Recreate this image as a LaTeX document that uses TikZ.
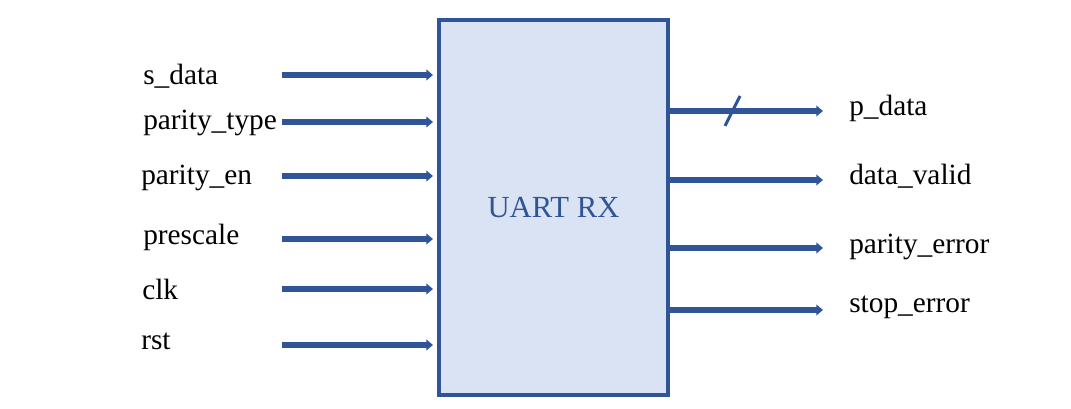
\documentclass[tikz,border=0pt]{standalone}
\usepackage{fontspec}
\setmainfont{Liberation Serif}
\usepackage{xcolor}
\usetikzlibrary{arrows.meta, positioning, calc}
\definecolor{rxblue}{HTML}{2F5597}
\definecolor{rxfill}{HTML}{DAE3F3}

\begin{document}
\begin{tikzpicture}[
    x=0.75pt, y=-0.75pt,
    block/.style={draw=rxblue, fill=rxfill, line width=3pt, minimum width=171.75pt, minimum height=281.25pt, font=\fontsize{23}{26}\selectfont, text=rxblue},
    sig/.style={anchor=base west, inner sep=0pt, font=\fontsize{22}{26}\selectfont},
    wire/.style={draw=rxblue, line width=3.8pt, -{Triangle[length=5pt,width=8pt]}},
  ]
  \useasboundingbox (0,0) rectangle (1071,409);

  % Block
  \node[block] (rx) at (553.5,207.5) {UART RX};

  % Inputs
  \node[sig] (sdata) at (143,85) {s\_data};
  \node[sig] (ptype) at (143,130) {parity\_type};
  \node[sig] (pen) at (141,185) {parity\_en};
  \node[sig] (pscale) at (143,245) {prescale};
  \node[sig] (clk) at (142,300) {clk};
  \node[sig] (rst) at (141,350) {rst};

  \coordinate (in1) at (282,75);
  \coordinate (in2) at (282,122);
  \coordinate (in3) at (282,176);
  \coordinate (in4) at (282,239);
  \coordinate (in5) at (282,289);
  \coordinate (in6) at (282,345);

  % Outputs
  \node[sig] (pdata) at (849,116) {p\_data};
  \node[sig] (dvalid) at (849,185) {data\_valid};
  \node[sig] (perr) at (849,254) {parity\_error};
  \node[sig] (serr) at (849,313) {stop\_error};

  \coordinate (out1) at (823,111);
  \coordinate (out2) at (823,180);
  \coordinate (out3) at (823,248);
  \coordinate (out4) at (823,310);

  % Connections
  \draw[wire, shorten >=3pt] (in1) -- (in1 -| rx.west);
  \draw[wire, shorten >=3pt] (in2) -- (in2 -| rx.west);
  \draw[wire, shorten >=3pt] (in3) -- (in3 -| rx.west);
  \draw[wire, shorten >=3pt] (in4) -- (in4 -| rx.west);
  \draw[wire, shorten >=3pt] (in5) -- (in5 -| rx.west);
  \draw[wire, shorten >=3pt] (in6) -- (in6 -| rx.west);

  \draw[wire] (out1 -| rx.east) -- (out1);
  \draw[wire] (out2 -| rx.east) -- (out2);
  \draw[wire] (out3 -| rx.east) -- (out3);
  \draw[wire] (out4 -| rx.east) -- (out4);

  % bus mark
  \coordinate (bus) at (733,111);
  \draw[rxblue, line width=2.2pt] ($(bus)+(-8,15)$) -- ($(bus)+(7,-15)$);
\end{tikzpicture}
\end{document}
